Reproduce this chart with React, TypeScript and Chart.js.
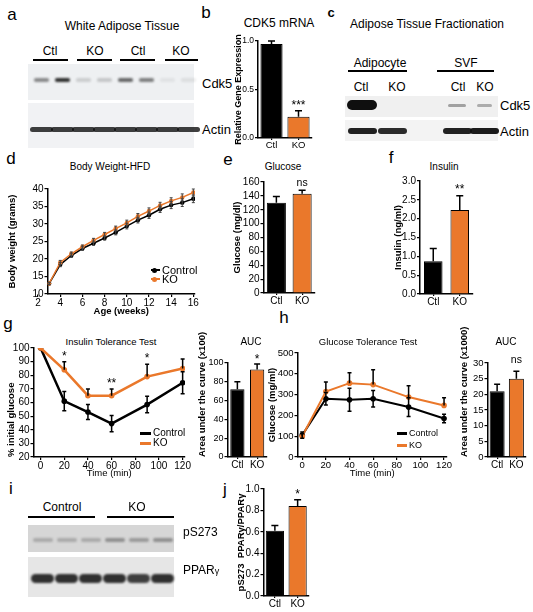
import React, { useEffect, useRef } from 'react';
import { Chart, registerables } from 'chart.js';

Chart.register(...registerables);

const FONT = '"Liberation Sans", Arial, Helvetica, sans-serif';
Chart.defaults.font.family = FONT;
Chart.defaults.color = '#000';

const ORANGE = '#EA782B';
const BLACK = '#000000';

// ---------------- data ----------------
const barCats = ['Ctl', 'KO'];

const cdk5Mrna = [0.97, 0.22];
const cdk5MrnaErr = [0.03, 0.06];
const cdk5MrnaSig = ['', '***'];
const cdk5MrnaTicks = [0, 0.5, 1.0];

const weeks = [3, 4, 5, 6, 7, 8, 9, 10, 11, 12, 13, 14, 15, 16];
const bwControl = [13, 18.4, 21, 23, 24.5, 26, 27.6, 29.4, 31.1, 32.5, 34.2, 35.4, 36.1, 37.2];
const bwControlErr = [0.3, 0.6, 0.5, 0.5, 0.6, 0.6, 0.7, 0.8, 0.8, 0.9, 0.9, 1.0, 1.1, 1.1];
const bwKO = [13, 19, 21.5, 23.5, 25.3, 27, 28.7, 30.3, 32.2, 33.7, 35.3, 36.6, 37.6, 39];
const bwKOErr = [0.3, 0.6, 0.5, 0.5, 0.6, 0.6, 0.7, 0.8, 0.8, 0.9, 0.9, 0.9, 1.0, 1.0];
const bwXTicks = [2, 4, 6, 8, 10, 12, 14, 16];
const bwYTicks = [10, 15, 20, 25, 30, 35, 40];

const glucose = [130, 143];
const glucoseErr = [9, 5];
const glucoseSig = ['', 'ns'];
const glucoseTicks = [0, 20, 40, 60, 80, 100, 120, 140, 160];

const insulin = [0.87, 2.23];
const insulinErr = [0.34, 0.38];
const insulinSig = ['', '**'];
const insulinTicks = [0, 0.5, 1.0, 1.5, 2.0, 2.5, 3.0];

const ittTime = [0, 20, 40, 60, 90, 120];
const ittControl = [100, 61, 53, 44.5, 58.5, 74.5];
const ittControlErr = [0, 7, 5.5, 6, 6, 8];
const ittKO = [100, 84, 65, 65, 79, 85];
const ittKOErr = [0, 6, 5, 5, 9, 7];
const ittSig = ['', '*', '', '**', '*', ''];
const ittXTicks = [0, 20, 40, 60, 80, 100, 120];
const ittYTicks = [20, 30, 40, 50, 60, 70, 80, 90, 100];

const ittAuc = [72, 93];
const ittAucErr = [8, 6];
const ittAucSig = ['', '*'];
const ittAucTicks = [0, 20, 40, 60, 80, 100];

const gttTime = [0, 20, 40, 60, 90, 120];
const gttControl = [105, 280, 275, 280, 240, 185];
const gttControlErr = [15, 30, 55, 40, 45, 20];
const gttKO = [100, 315, 355, 348, 288, 248];
const gttKOErr = [12, 45, 50, 72, 55, 37];
const gttXTicks = [0, 20, 40, 60, 80, 100, 120];
const gttYTicks = [0, 100, 200, 300, 400, 500];

const gttAuc = [21, 25];
const gttAucErr = [2.2, 2.4];
const gttAucSig = ['', 'ns'];
const gttAucTicks = [0, 5, 10, 15, 20, 25, 30];

const pparRatio = [0.61, 0.84];
const pparRatioErr = [0.05, 0.06];
const pparRatioSig = ['', '*'];
const pparRatioTicks = [0, 0.2, 0.4, 0.6, 0.8, 1.0];

// western blot band intensities (0..1)
const watCdk5 = [0.45, 0.85, 0.15, 0.18, 0.6, 0.5, 0.06, 0.08];
const watActin = [0.8, 0.8, 0.8, 0.8, 0.8, 0.8, 0.8, 0.8];
const fracCdk5 = [1, 0, 0.35, 0.3];
const fracActin = [0.92, 0.88, 0.92, 0.95];
const pS273 = [0.22, 0.22, 0.22, 0.35, 0.3, 0.35];
const pparg = [0.85, 0.85, 0.85, 0.85, 0.78, 0.85];

// ---------------- plugin: error bars + significance ----------------
type Series = {
  ds: number;
  vals: number[];
  err?: number[];
  dir?: 'up' | 'both';
  cap?: number;
  color?: string;
  width?: number;
  sig?: string[];
  sigSize?: number;
  sigGap?: number;
};

function annot(series: Series[]) {
  return {
    id: 'annot',
    afterDatasetsDraw(chart: any) {
      const ctx = chart.ctx;
      const ys = chart.scales.y;
      series.forEach((s) => {
        const meta = chart.getDatasetMeta(s.ds);
        ctx.save();
        ctx.strokeStyle = s.color || '#000';
        ctx.lineWidth = s.width || 1.2;
        meta.data.forEach((el: any, i: number) => {
          const v = s.vals[i];
          const e = s.err ? s.err[i] : 0;
          const x = el.x;
          const yv = ys.getPixelForValue(v);
          const yt = ys.getPixelForValue(v + e);
          const cap = s.cap ?? 3;
          if (e) {
            const yb = s.dir === 'both' ? ys.getPixelForValue(v - e) : yv;
            ctx.beginPath();
            ctx.moveTo(x, yt);
            ctx.lineTo(x, yb);
            ctx.moveTo(x - cap, yt);
            ctx.lineTo(x + cap, yt);
            if (s.dir === 'both') {
              ctx.moveTo(x - cap, yb);
              ctx.lineTo(x + cap, yb);
            }
            ctx.stroke();
          }
          if (s.sig && s.sig[i]) {
            ctx.fillStyle = '#000';
            ctx.font = `${s.sigSize || 11}px ${FONT}`;
            ctx.textAlign = 'center';
            ctx.textBaseline = 'alphabetic';
            ctx.fillText(s.sig[i], x, yt - (s.sigGap ?? 3));
          }
        });
        ctx.restore();
      });
    },
  };
}

// ---------------- scale helpers ----------------
function yAxis(o: {
  min: number;
  max: number;
  ticks: number[];
  title: string;
  tickSize?: number;
  titleSize?: number;
  dec?: number;
  align?: string;
}) {
  return {
    type: 'linear',
    min: o.min,
    max: o.max,
    afterBuildTicks: (s: any) => {
      s.ticks = o.ticks.map((v) => ({ value: v }));
    },
    ticks: {
      font: { size: o.tickSize ?? 10 },
      color: '#000',
      padding: 1,
      autoSkip: false,
      callback: (v: any) => Number(v).toFixed(o.dec ?? 0),
    },
    grid: { drawOnChartArea: false, drawTicks: true, tickLength: 3, color: '#000', lineWidth: 1.2 },
    border: { display: true, color: '#000', width: 1.5 },
    title: {
      display: true,
      text: o.title,
      align: o.align ?? 'center',
      font: { size: o.titleSize ?? 9.5, weight: 'bold' },
      color: '#000',
      padding: { top: 0, bottom: 0 },
    },
  };
}

function xLinear(o: { min: number; max: number; ticks: number[]; title: string; bold?: boolean; tickSize?: number }) {
  return {
    type: 'linear',
    min: o.min,
    max: o.max,
    afterBuildTicks: (s: any) => {
      s.ticks = o.ticks.map((v) => ({ value: v }));
    },
    ticks: { font: { size: o.tickSize ?? 10 }, color: '#000', padding: 0, maxRotation: 0, minRotation: 0, autoSkip: false },
    grid: { drawOnChartArea: false, drawTicks: true, tickLength: 3, color: '#000', lineWidth: 1.2 },
    border: { display: true, color: '#000', width: 1.5 },
    title: {
      display: true,
      text: o.title,
      font: { size: 9.5, weight: o.bold ? 'bold' : 'normal' },
      color: '#000',
      padding: { top: 0, bottom: 0 },
    },
  };
}

function xCat(size = 10) {
  return {
    type: 'category',
    offset: true,
    ticks: { font: { size }, color: '#000', padding: 0, maxRotation: 0, minRotation: 0, autoSkip: false },
    grid: { offset: false, drawOnChartArea: false, drawTicks: true, tickLength: 2, color: '#000', lineWidth: 1.2 },
    border: { display: true, color: '#000', width: 1.5 },
  };
}

function barConfig(o: {
  values: number[];
  errors: number[];
  sig: string[];
  ticks: number[];
  max: number;
  title: string;
  dec?: number;
  tickSize?: number;
  titleSize?: number;
  titleAlign?: string;
  catSize?: number;
  barPct: number;
  sigSize?: number;
  sigGap?: number;
  cap?: number;
}) {
  return {
    type: 'bar',
    data: {
      labels: barCats,
      datasets: [
        {
          data: o.values,
          backgroundColor: [BLACK, ORANGE],
          borderColor: BLACK,
          borderWidth: 1,
          barPercentage: o.barPct,
          categoryPercentage: 1,
        },
      ],
    },
    options: {
      scales: {
        x: xCat(o.catSize ?? 10),
        y: yAxis({
          min: 0,
          max: o.max,
          ticks: o.ticks,
          title: o.title,
          dec: o.dec,
          tickSize: o.tickSize,
          titleSize: o.titleSize,
          align: o.titleAlign,
        }),
      },
    },
    plugins: [
      annot([
        {
          ds: 0,
          vals: o.values,
          err: o.errors,
          dir: 'up',
          cap: o.cap ?? 3.5,
          width: 1.5,
          sig: o.sig,
          sigSize: o.sigSize ?? 12,
          sigGap: o.sigGap ?? 3,
        },
      ]),
    ],
  };
}

function pts(x: number[], y: number[]) {
  return x.map((t, i) => ({ x: t, y: y[i] }));
}

// ---------------- components ----------------
type Geo = { L: number; T: number; R: number; B: number; wy: number; hx: number; pr?: number; pt?: number };

function ChartBox({ geo, build }: { geo: Geo; build: () => any }) {
  const ref = useRef<HTMLCanvasElement | null>(null);
  const pl = 2;
  const pt = geo.pt ?? 8;
  const pr = geo.pr ?? 5;
  const pb = 2;
  const left = Math.round(geo.L - geo.wy - pl);
  const top = Math.round(geo.T - pt);
  const width = Math.round(geo.R - left + pr);
  const height = Math.round(geo.B - top + geo.hx + pb);
  useEffect(() => {
    const cfg = build();
    cfg.options = cfg.options || {};
    Object.assign(cfg.options, {
      responsive: false,
      maintainAspectRatio: false,
      animation: false,
      devicePixelRatio: 1,
      events: [],
      layout: { padding: { left: pl, top: pt, right: pr, bottom: pb } },
    });
    cfg.options.plugins = { legend: { display: false }, tooltip: { enabled: false }, title: { display: false } };
    cfg.options.scales.y.afterFit = (s: any) => {
      s.width = geo.wy;
    };
    cfg.options.scales.x.afterFit = (s: any) => {
      s.height = geo.hx;
    };
    const chart = new Chart(ref.current as HTMLCanvasElement, cfg);
    return () => chart.destroy();
  }, []);
  return (
    <canvas
      ref={ref}
      width={width}
      height={height}
      style={{ position: 'absolute', left, top, width, height }}
    />
  );
}

function Txt({
  x,
  y,
  s = 10,
  w = 400,
  a = 'center',
  children,
}: {
  x: number;
  y: number;
  s?: number;
  w?: number;
  a?: 'center' | 'left' | 'right';
  children: any;
}) {
  const tx = a === 'center' ? '-50%' : a === 'right' ? '-100%' : '0';
  return (
    <div
      style={{
        position: 'absolute',
        left: x,
        top: y,
        fontSize: s,
        fontWeight: w,
        lineHeight: 1,
        whiteSpace: 'nowrap',
        color: '#000',
        transform: `translate(${tx}, -50%)`,
      }}
    >
      {children}
    </div>
  );
}

function HLine({ x1, x2, y, t = 1.5 }: { x1: number; x2: number; y: number; t?: number }) {
  return <div style={{ position: 'absolute', left: x1, top: y - t / 2, width: x2 - x1, height: t, background: '#000' }} />;
}

function Blot({
  x,
  y,
  w,
  h,
  bg,
  centers,
  vals,
  by,
  bw,
  bh,
  blur = 0.8,
}: {
  x: number;
  y: number;
  w: number;
  h: number;
  bg: string;
  centers: number[];
  vals: number[];
  by: number;
  bw: number | number[];
  bh: number | number[];
  blur?: number;
}) {
  return (
    <div style={{ position: 'absolute', left: x, top: y, width: w, height: h, background: bg }}>
      {vals.map((v, i) => {
        if (v <= 0) return null;
        const W = Array.isArray(bw) ? bw[i] : bw;
        const H = Array.isArray(bh) ? bh[i] : bh;
        return (
          <div
            key={i}
            style={{
              position: 'absolute',
              left: centers[i] - x - W / 2,
              top: by - H / 2,
              width: W,
              height: H,
              background: `rgba(15,15,15,${v})`,
              borderRadius: H / 2,
              filter: `blur(${blur}px)`,
            }}
          />
        );
      })}
    </div>
  );
}

function Legend({
  x,
  y,
  color,
  label,
  len,
  thick,
  dot,
  size,
}: {
  x: number;
  y: number;
  color: string;
  label: string;
  len: number;
  thick: number;
  dot?: boolean;
  size: number;
}) {
  return (
    <>
      <div style={{ position: 'absolute', left: x, top: y - thick / 2, width: len, height: thick, background: color }} />
      {dot ? (
        <div
          style={{
            position: 'absolute',
            left: x + 1,
            top: y - 2.5,
            width: 5,
            height: 5,
            borderRadius: 3,
            background: color,
          }}
        />
      ) : null}
      <Txt x={x + len + 2} y={y} s={size} a="left">
        {label}
      </Txt>
    </>
  );
}

const lanes = (start: number, step: number, n: number) => Array.from({ length: n }, (_, i) => start + step * i);

export default function App() {
  return (
    <div
      style={{
        position: 'absolute',
        left: 0,
        top: 0,
        width: 533,
        height: 612,
        background: '#fff',
        overflow: 'hidden',
        fontFamily: FONT,
      }}
    >
      {/* ---- panel letters ---- */}
      <Txt x={12} y={14} s={17}>a</Txt>
      <Txt x={206} y={12} s={17}>b</Txt>
      <Txt x={331} y={12} s={13} w={700}>c</Txt>
      <Txt x={11} y={158} s={17}>d</Txt>
      <Txt x={228} y={159} s={17}>e</Txt>
      <Txt x={391} y={157} s={17}>f</Txt>
      <Txt x={8} y={323} s={17}>g</Txt>
      <Txt x={284} y={317} s={17}>h</Txt>
      <Txt x={11} y={488} s={17}>i</Txt>
      <Txt x={225} y={489} s={17}>j</Txt>

      {/* ---- a: WAT blot ---- */}
      <Txt x={122} y={26} s={12}>White Adipose Tissue</Txt>
      <Txt x={50} y={51} s={12}>Ctl</Txt>
      <Txt x={95} y={51} s={12}>KO</Txt>
      <Txt x={138} y={51} s={12}>Ctl</Txt>
      <Txt x={181} y={51} s={12}>KO</Txt>
      <HLine x1={33} x2={68} y={60} />
      <HLine x1={77} x2={112} y={60} />
      <HLine x1={120} x2={155} y={60} />
      <HLine x1={165} x2={198} y={60} />
      <Blot x={28} y={64} w={166} h={36} bg="#eef0f2" centers={lanes(41, 21, 8)} vals={watCdk5} by={16} bw={15} bh={3.5} />
      <Blot x={28} y={103} w={166} h={45} bg="#f1f2f4" centers={lanes(41, 21, 8)} vals={watActin} by={26} bw={23} bh={5} blur={0.6} />
      <Txt x={202} y={83} s={13} a="left">Cdk5</Txt>
      <Txt x={202} y={129} s={13} a="left">Actin</Txt>

      {/* ---- b: CDK5 mRNA ---- */}
      <Txt x={279} y={23} s={12}>CDK5 mRNA</Txt>
      <ChartBox
        geo={{ L: 258, T: 41, R: 312, B: 138, wy: 25, hx: 14, pt: 12 }}
        build={() =>
          barConfig({
            values: cdk5Mrna,
            errors: cdk5MrnaErr,
            sig: cdk5MrnaSig,
            ticks: cdk5MrnaTicks,
            max: 1.0,
            title: 'Relative Gene Expression',
            dec: 1,
            tickSize: 8.5,
            titleSize: 9,
            catSize: 9.5,
            barPct: 0.82,
            sigGap: 2,
          })
        }
      />

      {/* ---- c: fractionation blot ---- */}
      <Txt x={427} y={24} s={12}>Adipose Tissue Fractionation</Txt>
      <Txt x={380} y={63} s={12}>Adipocyte</Txt>
      <Txt x={466} y={63} s={12}>SVF</Txt>
      <HLine x1={348} x2={407} y={71} />
      <HLine x1={437} x2={494} y={71} />
      <Txt x={361} y={87} s={12}>Ctl</Txt>
      <Txt x={397} y={87} s={12}>KO</Txt>
      <Txt x={458} y={87} s={12}>Ctl</Txt>
      <Txt x={485} y={87} s={12}>KO</Txt>
      <Blot x={345} y={96} w={153} h={21} bg="#f0f0f0" centers={[362, 392, 457, 484]} vals={fracCdk5} by={9} bw={[30, 0, 18, 15]} bh={[10, 0, 3, 3]} blur={0.7} />
      <Blot x={345} y={120} w={153} h={21} bg="#f3f3f3" centers={[362, 392, 457, 484]} vals={fracActin} by={11} bw={29} bh={6} blur={0.6} />
      <Txt x={500} y={105} s={13} a="left">Cdk5</Txt>
      <Txt x={500} y={131} s={13} a="left">Actin</Txt>

      {/* ---- d: body weight ---- */}
      <Txt x={110} y={167} s={10}>Body Weight-HFD</Txt>
      <ChartBox
        geo={{ L: 47, T: 189, R: 194.7, B: 294, wy: 40.5, hx: 23, pr: 10 }}
        build={() => ({
          type: 'line',
          data: {
            datasets: [
              {
                data: pts(weeks, bwControl),
                borderColor: BLACK,
                backgroundColor: BLACK,
                borderWidth: 1.5,
                pointRadius: 2.2,
                pointBorderWidth: 0,
                order: 1,
              },
              {
                data: pts(weeks, bwKO),
                borderColor: ORANGE,
                backgroundColor: ORANGE,
                borderWidth: 1.5,
                pointRadius: 2.2,
                pointBorderWidth: 0,
                order: 0,
              },
            ],
          },
          options: {
            scales: {
              x: xLinear({ min: 2.85, max: 16.15, ticks: bwXTicks, title: 'Age (weeks)', bold: true }),
              y: yAxis({ min: 10, max: 40, ticks: bwYTicks, title: 'Body weight (grams)' }),
            },
          },
          plugins: [
            annot([
              { ds: 0, vals: bwControl, err: bwControlErr, dir: 'both', cap: 1.5, color: '#444', width: 1 },
              { ds: 1, vals: bwKO, err: bwKOErr, dir: 'both', cap: 1.5, color: '#444', width: 1 },
            ]),
          ],
        })}
      />
      <Legend x={151} y={270} color={BLACK} label="Control" len={9} thick={1.5} dot size={11} />
      <Legend x={151} y={279} color={ORANGE} label="KO" len={9} thick={1.5} dot size={11} />

      {/* ---- e: glucose ---- */}
      <Txt x={283} y={167} s={10}>Glucose</Txt>
      <ChartBox
        geo={{ L: 263, T: 182, R: 315, B: 293, wy: 31.5, hx: 14 }}
        build={() =>
          barConfig({
            values: glucose,
            errors: glucoseErr,
            sig: glucoseSig,
            ticks: glucoseTicks,
            max: 160,
            title: 'Glucose (mg/dl)',
            barPct: 0.74,
            sigSize: 10.5,
            sigGap: 4,
          })
        }
      />

      {/* ---- f: insulin ---- */}
      <Txt x={444} y={167} s={10}>Insulin</Txt>
      <ChartBox
        geo={{ L: 420, T: 181, R: 473, B: 294, wy: 27, hx: 14 }}
        build={() =>
          barConfig({
            values: insulin,
            errors: insulinErr,
            sig: insulinSig,
            ticks: insulinTicks,
            max: 3.0,
            title: 'Insulin (ng/ml)',
            dec: 1,
            barPct: 0.7,
            sigGap: 3,
          })
        }
      />

      {/* ---- g: ITT ---- */}
      <Txt x={111} y={342} s={9.5}>Insulin Tolerance Test</Txt>
      <ChartBox
        geo={{ L: 33, T: 348, R: 185, B: 457, wy: 27.5, hx: 22, pr: 10 }}
        build={() => ({
          type: 'line',
          data: {
            datasets: [
              {
                data: pts(ittTime, ittControl),
                borderColor: BLACK,
                backgroundColor: BLACK,
                borderWidth: 2.5,
                pointRadius: 2.8,
                pointBorderWidth: 0,
                order: 1,
              },
              {
                data: pts(ittTime, ittKO),
                borderColor: ORANGE,
                backgroundColor: ORANGE,
                borderWidth: 2.5,
                pointRadius: 2.8,
                pointBorderWidth: 0,
                order: 0,
              },
            ],
          },
          options: {
            scales: {
              x: xLinear({ min: -6, max: 122, ticks: ittXTicks, title: 'Time (min)' }),
              y: yAxis({ min: 20, max: 100, ticks: ittYTicks, title: '% initial glucose', align: 'start' }),
            },
          },
          plugins: [
            annot([
              { ds: 0, vals: ittControl, err: ittControlErr, dir: 'both', cap: 2, width: 1.5 },
              { ds: 1, vals: ittKO, err: ittKOErr, dir: 'up', cap: 2, width: 1.5, sig: ittSig, sigSize: 12, sigGap: 2 },
            ]),
          ],
        })}
      />
      <Legend x={140} y={433} color={BLACK} label="Control" len={11} thick={3} size={10} />
      <Legend x={140} y={443} color={ORANGE} label="KO" len={11} thick={3} size={10} />

      <Txt x={251} y={342} s={10}>AUC</Txt>
      <ChartBox
        geo={{ L: 227, T: 363, R: 267, B: 457, wy: 30.5, hx: 14, pt: 38 }}
        build={() =>
          barConfig({
            values: ittAuc,
            errors: ittAucErr,
            sig: ittAucSig,
            ticks: ittAucTicks,
            max: 100,
            title: 'Area under the curve (x100)',
            titleAlign: 'start',
            tickSize: 9,
            barPct: 0.72,
            cap: 3,
            sigGap: 1,
          })
        }
      />

      {/* ---- h: GTT ---- */}
      <Txt x={368} y={342} s={9.5}>Glucose Tolerance Test</Txt>
      <ChartBox
        geo={{ L: 297, T: 353, R: 447, B: 457, wy: 30.5, hx: 22, pr: 10 }}
        build={() => ({
          type: 'line',
          data: {
            datasets: [
              {
                data: pts(gttTime, gttControl),
                borderColor: BLACK,
                backgroundColor: BLACK,
                borderWidth: 2,
                pointRadius: 2.8,
                pointBorderWidth: 0,
                order: 1,
              },
              {
                data: pts(gttTime, gttKO),
                borderColor: ORANGE,
                backgroundColor: ORANGE,
                borderWidth: 2,
                pointRadius: 2.8,
                pointBorderWidth: 0,
                order: 0,
              },
            ],
          },
          options: {
            scales: {
              x: xLinear({ min: -4, max: 122.5, ticks: gttXTicks, title: 'Time (min)', tickSize: 9.5 }),
              y: yAxis({ min: 0, max: 500, ticks: gttYTicks, title: 'Glucose (mg/ml)', tickSize: 9.5 }),
            },
          },
          plugins: [
            annot([
              { ds: 0, vals: gttControl, err: gttControlErr, dir: 'both', cap: 2, width: 1.5 },
              { ds: 1, vals: gttKO, err: gttKOErr, dir: 'up', cap: 2, width: 1.5 },
            ]),
          ],
        })}
      />
      <Legend x={397} y={433} color={BLACK} label="Control" len={10} thick={3} size={9} />
      <Legend x={397} y={445} color={ORANGE} label="KO" len={10} thick={3} size={9} />

      <Txt x={506} y={342} s={10}>AUC</Txt>
      <ChartBox
        geo={{ L: 487, T: 363, R: 526, B: 457, wy: 28.5, hx: 14, pr: 4, pt: 42 }}
        build={() =>
          barConfig({
            values: gttAuc,
            errors: gttAucErr,
            sig: gttAucSig,
            ticks: gttAucTicks,
            max: 30,
            title: 'Area under the curve (x1000)',
            titleAlign: 'start',
            tickSize: 9.5,
            barPct: 0.78,
            cap: 3,
            sigSize: 10.5,
            sigGap: 8,
          })
        }
      />

      {/* ---- i: PPARg blot ---- */}
      <Txt x={62} y={507} s={12}>Control</Txt>
      <Txt x={137} y={507} s={12}>KO</Txt>
      <HLine x1={28} x2={95} y={517} />
      <HLine x1={107} x2={174} y={517} />
      <Blot x={28} y={525} w={146} h={27} bg="#d6d6d6" centers={lanes(42.5, 24, 6)} vals={pS273} by={15} bw={20} bh={4} blur={0.9} />
      <Blot x={28} y={557} w={146} h={40} bg="#e6e6e6" centers={lanes(42.5, 24, 6)} vals={pparg} by={21} bw={23} bh={9} blur={1} />
      <Txt x={183} y={532} s={12} a="left">pS273</Txt>
      <Txt x={183} y={570} s={12} a="left">
        PPAR<span style={{ fontSize: 9 }}>γ</span>
      </Txt>

      {/* ---- j: ratio ---- */}
      <ChartBox
        geo={{ L: 263, T: 489, R: 309, B: 596, wy: 27.5, hx: 14, pr: 4, pt: 10 }}
        build={() =>
          barConfig({
            values: pparRatio,
            errors: pparRatioErr,
            sig: pparRatioSig,
            ticks: pparRatioTicks,
            max: 1.0,
            title: 'pS273  PPARγ/PPARγ',
            dec: 1,
            barPct: 0.8,
            sigGap: 2,
          })
        }
      />
    </div>
  );
}
